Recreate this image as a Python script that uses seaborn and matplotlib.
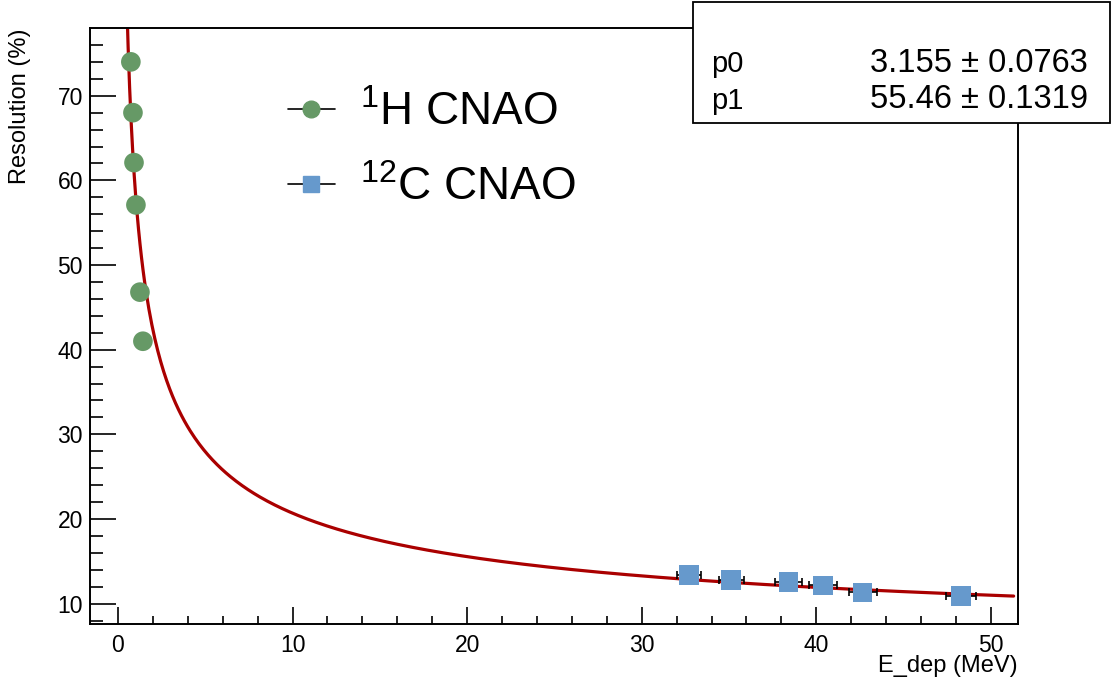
import matplotlib
matplotlib.use("Agg")
import matplotlib.pyplot as plt
import seaborn as sns
import numpy as np
import pandas as pd
from matplotlib.lines import Line2D
from matplotlib.patches import Rectangle

# proton (1H) points
h_edep = [0.74, 0.86, 0.92, 1.03, 1.26, 1.43]
h_res = [74.0, 68.0, 62.1, 57.1, 46.8, 41.0]
h_res_err = [0.3, 0.3, 0.3, 0.3, 0.4, 0.9]

# carbon (12C) points
c_edep = [32.72, 35.13, 38.40, 40.37, 42.65, 48.28]
c_res = [13.42, 12.83, 12.56, 12.16, 11.33, 10.94]
c_edep_err = [0.7, 0.7, 0.78, 0.8, 0.8, 0.85]
c_res_err = [0.2, 0.2, 0.2, 0.2, 0.2, 0.2]

# fit parameters: res = p0 + p1 / sqrt(E)
p0, p0_err = 3.155, 0.0763
p1, p1_err = 55.46, 0.1319

GREEN = "#669966"
BLUE = "#6699cc"
RED = "#aa0000"

sns.set_theme(style="ticks")
plt.rcParams["font.family"] = ["Liberation Sans", "DejaVu Sans"]
plt.rcParams["mathtext.fontset"] = "custom"
plt.rcParams["mathtext.rm"] = "Liberation Sans"
plt.rcParams["mathtext.it"] = "Liberation Sans"
plt.rcParams["text.color"] = "black"
plt.rcParams["axes.labelcolor"] = "black"

fig = plt.figure(figsize=(11.14, 6.85), dpi=100)
ax = fig.add_axes([90 / 1114, 1 - 624 / 685, 928 / 1114, 596 / 685])

e_fit = np.linspace(0.5, 51.3, 600)
fit = pd.DataFrame({"E": e_fit, "res": p0 + p1 / np.sqrt(e_fit)})
sns.lineplot(data=fit, x="E", y="res", color=RED, linewidth=2.3, ax=ax, zorder=2)

ax.errorbar(h_edep, h_res, yerr=h_res_err, fmt="none", ecolor="black",
            elinewidth=1.2, capsize=0, zorder=3)
ax.errorbar(c_edep, c_res, xerr=c_edep_err, yerr=c_res_err, fmt="none",
            ecolor="black", elinewidth=1.2, capsize=3, capthick=1.2, zorder=3)

h_df = pd.DataFrame({"E": h_edep, "res": h_res})
c_df = pd.DataFrame({"E": c_edep, "res": c_res})
sns.scatterplot(data=h_df, x="E", y="res", marker="o", s=200, color=GREEN,
                edgecolor="none", ax=ax, zorder=4)
sns.scatterplot(data=c_df, x="E", y="res", marker="s", s=200, color=BLUE,
                edgecolor="none", ax=ax, zorder=4)

ax.set_xlim(-1.6, 51.55)
ax.set_ylim(7.6, 78.0)
ax.set_xticks(np.arange(0, 51, 10))
ax.set_xticks(np.arange(0, 52, 2), minor=True)
ax.set_yticks(np.arange(10, 71, 10))
ax.set_yticks(np.arange(8, 78, 2), minor=True)
ax.tick_params(axis="both", which="both", direction="in", colors="black",
               labelsize=16.5, width=1.2)
ax.tick_params(axis="x", which="major", length=12, pad=7)
ax.tick_params(axis="x", which="minor", length=6)
ax.tick_params(axis="y", which="major", length=19, pad=5)
ax.tick_params(axis="y", which="minor", length=9.5)
for sp in ax.spines.values():
    sp.set_linewidth(1.4)
    sp.set_color("black")

ax.set_xlabel("E_dep (MeV)", fontsize=17, loc="right")
ax.xaxis.set_label_coords(1.0, -0.052)
ax.set_ylabel("Resolution (%)", fontsize=17, loc="top")
ax.yaxis.set_label_coords(-0.064, 1.0)

handles = [
    Line2D([], [], color="black", lw=1.2, marker="o", markersize=12,
           markerfacecolor=GREEN, markeredgecolor=GREEN),
    Line2D([], [], color="black", lw=1.2, marker="s", markersize=11,
           markerfacecolor=BLUE, markeredgecolor=BLUE),
]
labels = [r"$^{1}$H CNAO", r"$^{12}$C CNAO"]
fig.legend(handles, labels, loc="upper left", bbox_to_anchor=(288 / 1114, 1 - 91 / 685),
           frameon=False, fontsize=33, handlelength=1.02, handletextpad=0.55,
           labelspacing=0.68, borderpad=0, borderaxespad=0)

# stats box
fig.add_artist(Rectangle((693 / 1114, 1 - 123 / 685), 417 / 1114, 121 / 685,
                         transform=fig.transFigure, facecolor="white",
                         edgecolor="black", linewidth=1.3, zorder=10))
fig.text(711 / 1114, 1 - 64 / 685, "p0", fontsize=21, va="center", ha="left", zorder=11)
fig.text(1088 / 1114, 1 - 63 / 685, f"{p0:.3f} ± {p0_err:.4f}", fontsize=23.5,
         va="center", ha="right", zorder=11)
fig.text(711 / 1114, 1 - 101 / 685, "p1", fontsize=21, va="center", ha="left", zorder=11)
fig.text(1088 / 1114, 1 - 100 / 685, f"{p1:.2f} ± {p1_err:.4f}", fontsize=23.5,
         va="center", ha="right", zorder=11)

fig.savefig("out.png", dpi=100)
